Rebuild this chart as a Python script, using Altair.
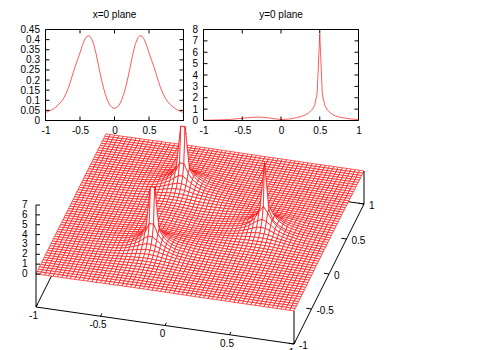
import altair as alt
import pandas as pd

# ---- x=0 plane panel: half profile y=-1..0 in 1/30 steps (symmetric)
X0_HALF = [.040,.044,.049,.055,.062,.071,.082,.095,.112,.135,.163,.197,.235,.270,.302,.335,.370,.400,.416,.420,.405,.375,.330,.275,.220,.170,.130,.098,.076,.064,.060]
GRID = [-1 + i / 30 for i in range(61)]

# ---- surface heights in hundredths; row j is |y| = j/30, column i is x = -1 + i/30
Z_ROWS = [
[2,3,3,4,4,5,5,6,7,8, 9,11,13,15,17,20,22,24,26,28, 29,30,30,28,26,23,20,17,14,12, 8,9,11,13,16,20,25,30,37,45, 56,72,95,130,240,760,230,130,92,68, 52,41,34,28,24,20,17,14,12,10, 8],
[2,3,3,4,4,5,5,6,7,8, 9,11,13,15,17,20,22,24,26,28, 29,30,30,28,26,23,19,16,13,10, 6,8,10,13,16,20,25,31,38,46, 58,78,105,150,220,280,220,150,105,78, 58,44,36,27,23,19,16,14,12,10, 8],
[2,3,3,4,4,5,6,6,7,8, 9,11,13,15,18,20,23,25,27,28, 29,30,29,28,26,23,19,15,12,10, 8,9,11,14,17,20,25,30,36,43, 56,70,92,125,155,170,155,125,92,70, 54,43,34,26,22,18,16,13,12,10, 8],
[2,3,4,4,5,5,6,7,8,9, 10,11,13,15,18,20,23,25,27,28, 29,29,28,27,25,22,18,15,12,11, 10,11,13,15,18,21,25,29,34,40, 50,62,78,95,110,115,110,95,78,60, 48,39,32,25,21,18,15,13,11,10, 8],
[2,3,4,4,5,6,6,7,8,9, 11,12,14,16,18,21,24,26,28,30, 31,31,30,29,27,24,21,17,15,14, 13,14,16,18,20,23,26,30,34,40, 48,54,64,73,79,80,79,72,62,52, 43,36,30,23,20,17,15,13,11,10, 8],
[3,3,4,5,5,6,7,8,9,10, 11,13,15,17,20,23,26,28,30,32, 33,34,33,32,30,27,24,21,19,18, 17,18,20,21,23,25,28,31,34,37, 43,47,52,56,58,58,58,56,52,47, 41,35,28,24,21,18,15,13,12,10, 8],
[3,3,4,5,6,6,7,8,10,11, 12,14,16,18,21,24,27,30,33,35, 37,38,38,37,35,33,30,27,25,23, 22,22,23,25,26,28,30,32,34,36, 38,40,42,44,44,44,44,44,42,38, 34,30,26,22,19,17,15,13,11,10, 8],
[3,4,4,5,6,7,8,9,10,12, 13,15,17,20,23,26,30,33,37,41, 44,45,45,44,42,39,36,33,30,28, 27,27,27,27,28,29,30,31,32,33, 34,35,36,37,37,37,37,36,34,31, 28,25,22,20,17,15,13,12,11,10, 8],
[3,4,4,5,6,7,8,10,11,13, 15,17,19,22,25,29,33,37,41,46, 50,55,58,58,55,50,46,42,39,36, 33,31,30,29,29,29,29,29,30,30, 30,31,31,31,31,31,31,30,29,27, 25,23,21,18,16,15,13,12,10,9, 8],
[3,4,4,5,6,7,9,10,12,14, 16,18,20,23,26,30,34,39,47,56, 66,73,78,78,73,66,56,48,44,40, 37,34,32,31,30,29,28,27,27,27, 27,27,27,27,27,26,26,26,25,24, 23,21,19,17,16,14,13,11,10,9, 8],
[3,4,4,5,6,8,9,11,12,14, 16,18,21,24,28,32,37,43,54,68, 84,100,112,112,100,84,68,56,50,44, 40,36,33,31,29,28,27,26,25,24, 24,24,24,24,24,23,23,23,22,22, 21,19,18,16,15,13,12,11,10,9, 8],
[3,4,4,5,6,8,9,11,12,14, 17,19,22,25,29,33,38,45,60,78, 102,135,165,165,135,102,78,62,50,46, 42,37,33,30,28,26,25,24,23,22, 22,21,21,21,21,20,20,20,20,19, 18,17,16,15,14,13,12,10,9,8, 7],
[3,4,4,5,6,7,9,10,12,14, 16,19,22,25,30,34,40,50,66,88, 120,175,270,270,175,120,88,66,52,44, 42,35,31,28,26,24,23,22,21,21, 20,20,19,19,19,18,19,19,18,17, 16,15,15,14,13,12,11,10,9,8, 7],
[3,4,4,5,6,7,8,9,11,13, 15,17,20,23,27,32,38,48,64,90, 130,200,620,620,200,130,90,66,52,42, 40,34,29,26,24,22,21,20,19,19, 19,19,18,18,17,16,17,17,16,15, 14,13,12,11,11,10,9,8,7,7, 6],
[3,4,4,5,6,7,8,10,11,13, 15,17,20,23,27,32,38,50,66,88, 120,175,270,270,175,120,88,66,50,40, 37,31,27,24,22,20,19,18,17,17, 16,16,16,15,15,15,15,14,14,13, 13,12,11,11,10,9,9,8,7,7, 6],
[3,3,4,5,5,6,8,9,10,12, 14,16,19,22,25,30,35,44,60,78, 102,135,165,165,135,102,78,62,46,36, 33,26,23,20,18,17,16,15,14,14, 13,13,13,13,13,12,12,12,12,11, 11,10,10,9,9,8,8,7,7,6, 6],
[3,3,4,4,5,6,7,8,10,11, 13,15,17,20,23,26,32,41,54,68, 84,100,112,112,100,84,68,56,44,33, 30,24,20,18,16,15,14,13,12,12, 11,11,11,11,10,10,10,10,10,10, 9,9,9,8,8,7,7,7,6,6, 5],
[3,3,3,4,5,5,6,8,9,10, 12,13,15,17,20,24,29,36,47,56, 66,73,78,78,73,66,56,48,37,30, 27,22,18,16,14,13,12,11,11,10, 10,10,9,9,9,9,9,9,8,8, 8,8,7,7,7,6,6,6,5,5, 5],
[2,3,3,4,4,5,6,7,8,9, 10,12,14,16,19,22,26,30,36,42, 50,55,58,58,55,50,42,36,30,26, 23,19,16,14,13,12,11,10,9,9, 9,8,8,8,8,8,8,7,7,7, 7,7,6,6,6,6,5,5,5,5, 4],
[2,3,3,3,4,5,5,6,7,8, 10,11,13,14,17,19,23,26,30,33, 36,39,41,41,39,36,33,30,26,23, 20,17,14,13,11,10,9,9,8,8, 8,7,7,7,7,7,7,6,6,6, 6,6,6,5,5,5,5,4,4,4, 4],
[2,2,3,3,4,4,5,6,7,8, 9,10,12,13,15,17,19,22,25,28, 30,32,33,33,32,30,28,25,22,19, 16,14,12,11,10,9,8,8,7,7, 7,6,6,6,6,6,6,6,5,5, 5,5,5,5,4,4,4,4,4,3, 3],
[2,2,3,3,3,4,5,5,6,7, 8,9,11,12,14,15,17,19,21,23, 25,26,27,27,26,25,23,21,19,17, 15,12,11,10,9,8,7,7,7,6, 6,6,5,5,5,5,5,5,5,4, 4,4,4,4,4,3,3,3,3,3, 3],
[2,2,2,3,3,4,4,5,6,6, 7,8,10,11,12,14,15,16,18,19, 21,22,22,22,22,21,19,18,16,15, 13,11,10,9,8,7,7,6,6,6, 5,5,5,5,4,4,4,4,4,4, 4,4,3,3,3,3,3,3,3,2, 2],
[2,2,2,3,3,3,4,4,5,6, 7,7,8,9,11,12,13,14,15,16, 17,18,18,18,18,17,16,15,14,13, 11,10,9,8,7,6,6,6,5,5, 5,4,4,4,4,4,4,4,3,3, 3,3,3,3,3,3,2,2,2,2, 2],
[2,2,2,2,3,3,3,4,4,5, 6,6,7,8,9,10,11,12,13,14, 14,15,15,15,15,14,14,13,12,11, 10,9,8,7,6,6,5,5,5,4, 4,4,4,3,3,3,3,3,3,3, 3,3,3,2,2,2,2,2,2,2, 2],
[1,2,2,2,2,3,3,3,4,4, 5,5,6,7,8,8,9,10,11,11, 12,12,13,13,12,12,11,11,10,9, 8,8,7,6,6,5,5,4,4,4, 4,3,3,3,3,3,3,3,3,2, 2,2,2,2,2,2,2,2,2,2, 1],
[1,1,2,2,2,2,3,3,3,4, 4,5,5,6,6,7,8,8,9,9, 10,10,11,11,10,10,9,9,8,8, 7,6,6,5,5,4,4,4,4,3, 3,3,3,3,3,2,2,2,2,2, 2,2,2,2,2,2,2,1,1,1, 1],
[1,1,1,2,2,2,2,3,3,3, 4,4,4,5,5,6,6,7,7,8, 8,9,9,9,9,8,8,7,7,6, 6,5,5,5,4,4,4,3,3,3, 3,3,2,2,2,2,2,2,2,2, 2,2,2,2,1,1,1,1,1,1, 1],
[1,1,1,1,2,2,2,2,2,3, 3,3,4,4,5,5,5,6,6,7, 7,7,8,8,7,7,7,6,6,5, 5,5,4,4,4,3,3,3,3,3, 2,2,2,2,2,2,2,2,2,2, 1,1,1,1,1,1,1,1,1,1, 1],
[1,1,1,1,1,2,2,2,2,2, 3,3,3,4,4,4,5,5,5,6, 6,6,6,6,6,6,6,5,5,5, 4,4,4,3,3,3,3,3,2,2, 2,2,2,2,2,2,2,2,1,1, 1,1,1,1,1,1,1,1,1,1, 1],
[1,1,1,1,1,1,2,2,2,2, 2,3,3,3,3,4,4,4,4,5, 5,5,5,5,5,5,5,4,4,4, 4,4,3,3,3,3,2,2,2,2, 2,2,2,2,2,2,1,1,1,1, 1,1,1,1,1,1,1,1,1,1, 1],
]
Z_ROWS = [(r + [r[-1]] * 61)[:61] for r in Z_ROWS]

XY_TICKS = [-1, -0.5, 0, 0.5, 1]
Z_TICKS = [0, 1, 2, 3, 4, 5, 6, 7]
X0_YTICKS = [0, .05, .1, .15, .2, .25, .3, .35, .4, .45]
Y0_YTICKS = [0, 1, 2, 3, 4, 5, 6, 7, 8]

W, H = 484, 342
FONT = "Liberation Sans"
RED = "#ff0000"
LINE_W = 0.8
MESH_W = 0.65
px_x = alt.Scale(domain=[0, W], range=[0, W], nice=False, zero=False)
px_y = alt.Scale(domain=[0, H], range=[0, H], nice=False, zero=False)
BASE_Z = -3.35

def project(x, y, z):
    return (192 + 129 * x + 35 * y, 214.5 + 18.5 * x - 70 * y - 9.85 * z)

# ---- surface quads, far to near
signed = list(range(30, 0, -1)) + [0] + [-j for j in range(1, 31)]   # y from +1 to -1
features = []
def zval(i, sj):
    return min(Z_ROWS[abs(sj)][i] / 100, 7.0)
for a, b in zip(signed[:-1], signed[1:]):
    for i in range(60):
        pts = [project(GRID[i + di], sj / 30, zval(i + di, sj))
               for di, sj in ((0, a), (1, a), (1, b), (0, b), (0, a))]
        features.append({"type": "Feature", "properties": {},
                         "geometry": {"type": "Polygon",
                                      "coordinates": [[[round(p, 2), round(q, 2)] for p, q in pts]]}})

surface = alt.Chart(alt.Data(values=features)).mark_geoshape(
    fill="white", stroke=RED, strokeWidth=MESH_W
).project(type="identity", scale=1, translate=[0, 0])

def segs(items):
    rows = []
    for k, (p, q) in enumerate(items):
        rows.append({"seg": k, "n": 0, "sx": p[0], "sy": p[1]})
        rows.append({"seg": k, "n": 1, "sx": q[0], "sy": q[1]})
    return pd.DataFrame(rows)

def seg_layer(items, width=1.0):
    return alt.Chart(segs(items)).mark_line(color="black", strokeWidth=width).encode(
        x=alt.X("sx:Q", scale=px_x, axis=None),
        y=alt.Y("sy:Q", scale=px_y, axis=None),
        detail="seg:N", order="n:Q")

def text_layer(rows, align):
    return alt.Chart(pd.DataFrame(rows)).mark_text(
        font=FONT, fontSize=10, color="black", align=align, baseline="middle"
    ).encode(x=alt.X("sx:Q", scale=px_x, axis=None), y=alt.Y("sy:Q", scale=px_y, axis=None), text="t:N")

back = seg_layer([
    (project(-1, -1, BASE_Z), project(-1, 1, BASE_Z)),
    (project(-1, 1, BASE_Z), project(1, 1, BASE_Z)),
])
front_items = [
    (project(-1, -1, BASE_Z), project(1, -1, BASE_Z)),
    (project(1, -1, BASE_Z), project(1, 1, BASE_Z)),
    (project(-1, -1, BASE_Z), project(-1, -1, 7)),
    (project(1, -1, BASE_Z), project(1, -1, 0)),
    (project(1, 1, BASE_Z), project(1, 1, 0)),
]
for t in XY_TICKS:
    front_items.append((project(t, -1, BASE_Z), project(t, -0.96, BASE_Z)))
    front_items.append((project(1, t, BASE_Z), project(0.96, t, BASE_Z)))
for t in Z_TICKS:
    a = project(-1, -1, t)
    front_items.append((a, (a[0] + 4, a[1])))
front = seg_layer(front_items)

xlab = []
ylab = []
for t in XY_TICKS:
    p = project(t, -1, BASE_Z)
    xlab.append({"sx": p[0] - 2.5, "sy": p[1] + 9, "t": str(t)})
    q = project(1, t, BASE_Z)
    ylab.append({"sx": q[0] + 5, "sy": q[1] + 2, "t": str(t)})
zlab = [{"sx": project(-1, -1, t)[0] - 8.5, "sy": project(-1, -1, t)[1], "t": str(t)} for t in Z_TICKS]
labels3d = [text_layer(xlab, "center"), text_layer(ylab, "left"), text_layer(zlab, "right")]

def panel(xs, ys, ydom, yticks, x0, x1, title, color_w=LINE_W):
    top, bottom = 21.5, 112.5
    sx = alt.Scale(domain=[-1, 1], range=[x0, x1], nice=False, zero=False)
    sy = alt.Scale(domain=ydom, range=[bottom, top], nice=False, zero=False)
    lax = alt.Axis(values=XY_TICKS, orient="bottom", offset=bottom - H, domain=False, ticks=False, grid=False,
                   labelFont=FONT, labelFontSize=10, labelColor="black", labelPadding=5, labelOverlap=False,
                   labelFlush=False, labelExpr="'' + datum.value", title=None)
    ray = alt.Axis(values=yticks, orient="left", offset=-x0, domain=False, ticks=False, grid=False,
                   labelFont=FONT, labelFontSize=10, labelColor="black", labelPadding=6, labelOverlap=False,
                   labelFlush=False, labelExpr="'' + datum.value", title=None)
    curve = alt.Chart(pd.DataFrame({"x": xs, "y": ys})).mark_line(color=RED, strokeWidth=color_w, opacity=0.8).encode(
        x=alt.X("x:Q", scale=sx, axis=lax), y=alt.Y("y:Q", scale=sy, axis=ray))
    frame = alt.Chart(pd.DataFrame({"a": [-1], "b": [1], "c": [ydom[0]], "d": [ydom[1]]})).mark_rect(
        fillOpacity=0, stroke="black", strokeWidth=1
    ).encode(x=alt.X("a:Q", scale=sx, axis=None), x2="b:Q", y=alt.Y("c:Q", scale=sy, axis=None), y2="d:Q")
    xt = pd.DataFrame({"v": XY_TICKS})
    yt = pd.DataFrame({"v": yticks})
    tick_layers = []
    for y_a, y_b in ((bottom, bottom - 4), (top, top + 4)):
        tick_layers.append(alt.Chart(xt).mark_rule(color="black", strokeWidth=1).encode(
            x=alt.X("v:Q", scale=sx, axis=None), y=alt.value(y_a), y2=alt.value(y_b)))
    for x_a, x_b in ((x0, x0 + 4), (x1, x1 - 4)):
        tick_layers.append(alt.Chart(yt).mark_rule(color="black", strokeWidth=1).encode(
            y=alt.Y("v:Q", scale=sy, axis=None), x=alt.value(x_a), x2=alt.value(x_b)))
    ttl = text_layer([{"sx": (x0 + x1) / 2, "sy": 7, "t": title}], "center")
    return [curve, frame] + tick_layers + [ttl]

x0_plane = X0_HALF + X0_HALF[-2::-1]
y0_plane = [v / 100 for v in Z_ROWS[0]]

layers = [back, surface, front] + labels3d
layers += panel(GRID, x0_plane, [0, 0.45], X0_YTICKS, 37.5, 175.5, "x=0 plane")
layers += panel(GRID, y0_plane, [0, 8], Y0_YTICKS, 195.5, 350.5, "y=0 plane")

chart = alt.layer(*layers).resolve_scale(x="independent", y="independent").properties(
    width=W, height=H, padding=0, autosize=alt.AutoSizeParams(type="none")
).configure_view(stroke=None)

chart.save("out.html", embed_options={"renderer": "svg", "actions": False})
